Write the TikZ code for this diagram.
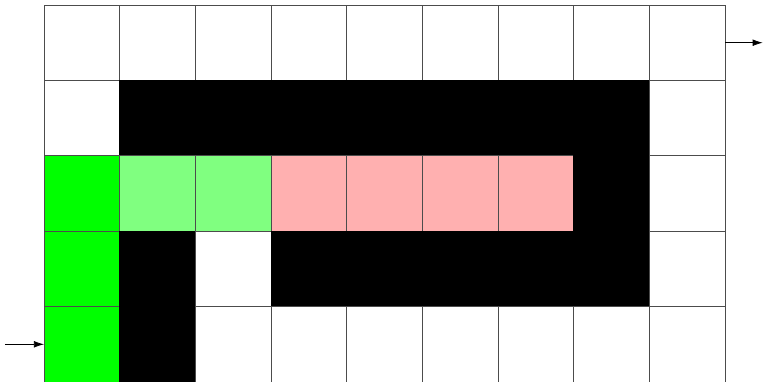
\documentclass[tikz,border=0pt]{standalone}
\usetikzlibrary{arrows.meta, positioning}
\definecolor{pathgreen}{RGB}{0,255,0}
\definecolor{seengreen}{RGB}{128,255,128}
\definecolor{seenred}{RGB}{255,176,176}
\tikzset{
  cell/.style={draw=black!70, line width=0.6pt, minimum width=2.27cm, minimum height=2.262cm, inner sep=0pt, outer sep=0pt},
  open/.style={fill=white},
  wall/.style={fill=black, draw=black},
  route/.style={fill=pathgreen},
  visited/.style={fill=seengreen},
  deadend/.style={fill=seenred},
  flow/.style={-{Latex[length=3mm, width=2mm]}, line width=0.6pt}
}

\begin{document}
\begin{tikzpicture}[x=0.03cm, y=-0.03cm]
  \useasboundingbox (0,0) rectangle (763,381);
  % maze cells, row by row
  \foreach \row/\cols in {
    0/{open,open,open,open,open,open,open,open,open},
    1/{open,wall,wall,wall,wall,wall,wall,wall,open},
    2/{route,visited,visited,deadend,deadend,deadend,deadend,wall,open},
    3/{route,wall,open,wall,wall,wall,wall,wall,open},
    4/{route,wall,open,open,open,open,open,open,open}} {
    \foreach \c [count=\col from 0] in \cols {
      \node[cell, \c] (c-\row-\col) at ({81.83+75.67*\col}, {42.7+75.4*\row}) {};
    }
  }
  % entry and exit
  \coordinate[left=1.17cm of c-4-0.west] (start);
  \coordinate[right=1.13cm of c-0-8.east] (goal);
  \draw[flow] (start) -- (c-4-0.west);
  \draw[flow] (c-0-8.east) -- (goal);
\end{tikzpicture}
\end{document}
